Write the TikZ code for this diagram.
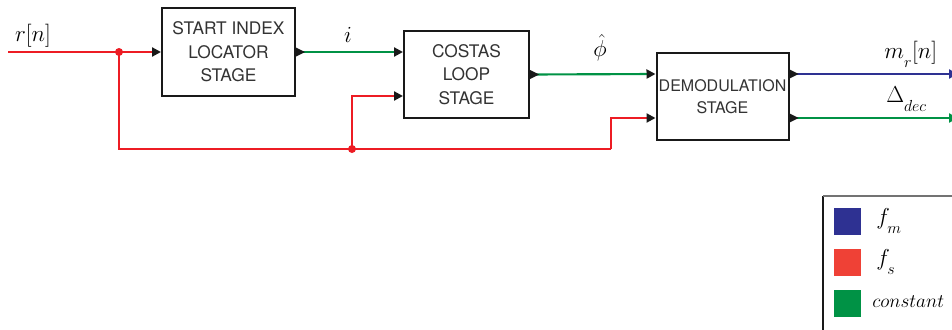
\documentclass[tikz,border=0pt]{standalone}
\usepackage{fontspec}
\newfontfamily\boxfont{TeX Gyre Heros}
\usetikzlibrary{arrows.meta}
\definecolor{sblue}{RGB}{46,49,146}
\definecolor{sred}{RGB}{237,28,36}
\definecolor{lred}{RGB}{239,65,54}
\definecolor{sgreen}{RGB}{0,146,69}
\tikzset{
  stage/.style={draw=black!90, line width=1.5pt, fill=white, inner sep=0pt, align=center,
    text=black!80, font=\boxfont\fontsize{13}{17.5}\selectfont},
  sig/.style={line width=1.6pt},
  tip/.style={-{Triangle[length=6.75pt,width=6.75pt,color=black!90]}},
  ctip/.style={-{Triangle[length=6.75pt,width=6.75pt]}},
  jdot/.style={circle, fill=sred, inner sep=0pt, minimum size=6pt},
  lbl/.style={inner sep=0pt, font=\fontsize{18}{21}\selectfont},
  swatch/.style={minimum width=20.25pt, minimum height=20.25pt, inner sep=0pt},
}
\newcommand{\outtri}[1]{\fill[black!90] #1 ++(0,-4.5) -- ++(9,4.5) -- ++(-9,4.5) -- cycle;}
\begin{document}
\begin{tikzpicture}[x=0.75pt,y=-0.75pt]
\useasboundingbox (0,0) rectangle (952,329);
\clip (0,0) rectangle (952,329);
% stages
\node[stage, minimum width=99.75pt, minimum height=66pt] (b1) at (228.5,52) {START INDEX\\LOCATOR\\STAGE};
\node[stage, minimum width=93.75pt, minimum height=65.25pt] (b2) at (466.5,74.5) {COSTAS\\LOOP\\STAGE};
\node[stage, minimum width=99pt, minimum height=65.25pt, font=\boxfont\fontsize{12}{16}\selectfont] (d) at (722.5,96.5) {DEMODULATION\\STAGE};
% ports and points
\coordinate (in) at (8,52);
\coordinate (b2i1) at (b2.west |- 0,52);
\coordinate (b2i2) at (b2.west |- 0,96);
\coordinate (di1) at (d.west |- 0,74);
\coordinate (di2) at (d.west |- 0,118);
\coordinate (do1) at (d.east |- 0,74);
\coordinate (do2) at (d.east |- 0,118);
\coordinate (o1) at (958,74);
\coordinate (o2) at (958,118);
\coordinate (k1) at (119,149);
\coordinate (k2) at (611,149);
\node[jdot] (j1) at (119,52) {};
\node[jdot] (j2) at (352,149) {};
% red signal
\draw[sig, sred, tip] (in) -- (b1.west);
\draw[sig, sred] (j1.center) -- (k1) -- (j2.center) -- (k2);
\draw[sig, sred, tip] (k2) |- (di2);
\draw[sig, sred, tip] (j2.center) |- (b2i2);
% green
\draw[sig, sgreen, tip] (b1.east) -- (b2i1);
\draw[sig, sgreen, tip] (b2.east) -- (di1);
\draw[sig, sblue, ctip] (do1) -- (o1);
\draw[sig, sgreen, ctip] (do2) -- (o2);
\outtri{(b1.east)}
\outtri{(b2.east)}
\outtri{(do1)}
\outtri{(do2)}
% labels
\node[lbl] (lr) at (33,36) {$r[n]$};
\node[lbl] (li) at (348,35) {$i$};
\node[lbl] (lphi) at (600,48) {$\hat{\phi}$};
\node[lbl, anchor=west] (lm) at (884,54) {$m_{\raisebox{-4pt}{$\scriptstyle r$}}[n]$};
\node[lbl, anchor=west] (ld) at (886,99) {$\Delta_{\raisebox{-4pt}{$\scriptstyle dec$}}$};
% legend
\draw[line width=1.5pt, black!90] (823,340) -- (823,196);
\draw[line width=1.5pt, black!55] (823,196) -- (960,196);
\node[swatch, fill=sblue] (s1) at (847.5,221.5) {};
\node[swatch, fill=lred] (s2) at (847.5,262.5) {};
\node[swatch, fill=sgreen] (s3) at (847.5,303.5) {};
\node[lbl, anchor=west] (t1) at (876,221) {$f_{\raisebox{-4pt}{$\scriptstyle m$}}$};
\node[lbl, anchor=west] (t2) at (876,262) {$f_{\raisebox{-4pt}{$\scriptstyle s$}}$};
\node[lbl, anchor=west, font=\fontsize{15}{18}\selectfont] (t3) at (872,302) {$constant$};
\end{tikzpicture}
\end{document}
